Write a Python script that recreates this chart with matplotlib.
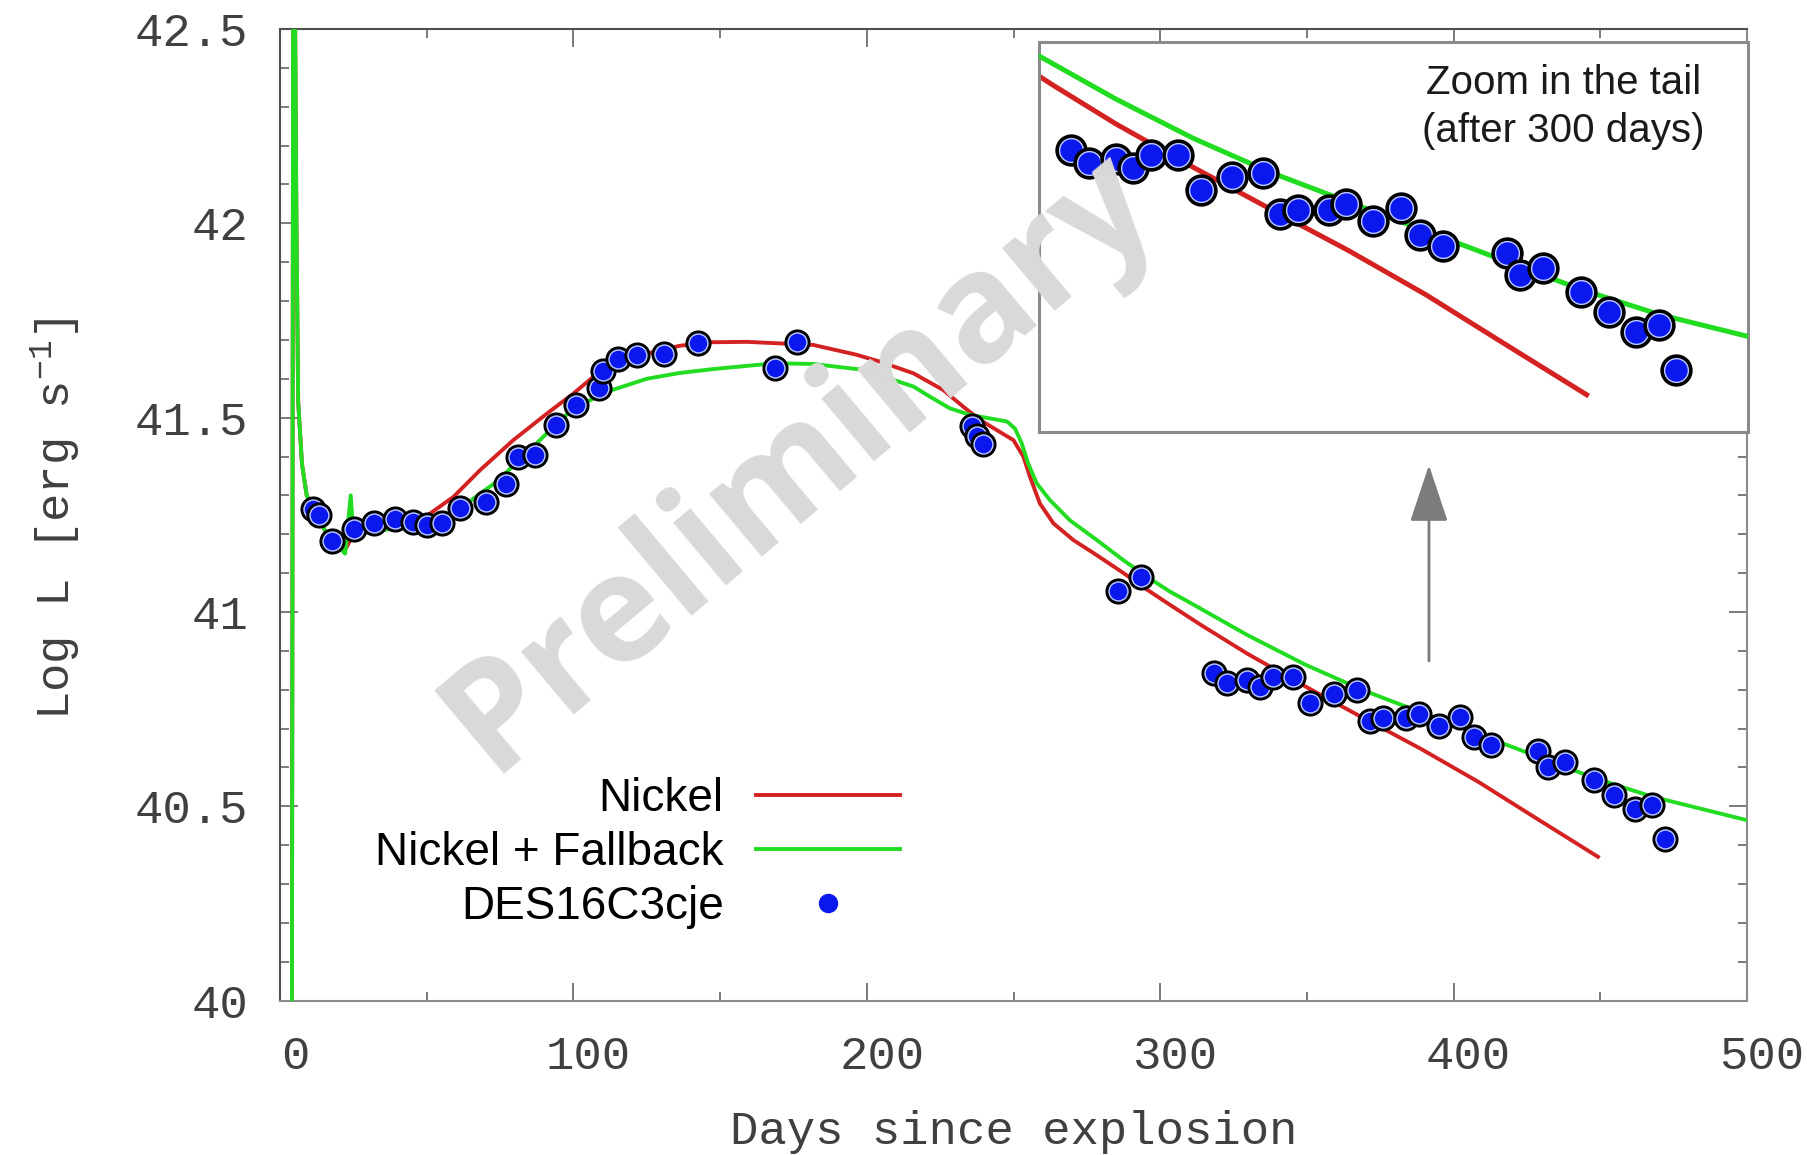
"""Bolometric light curve of DES16C3cje with nickel and fallback models."""

import matplotlib
matplotlib.use("Agg")
import matplotlib.pyplot as plt
from matplotlib.ticker import MultipleLocator
from matplotlib.transforms import ScaledTranslation

plt.rcParams["mathtext.fontset"] = "custom"
plt.rcParams["mathtext.rm"] = "Liberation Mono"
plt.rcParams["mathtext.default"] = "rm"

# --- model curves -----------------------------------------------------------
nickel_days = [4.0, 4.5, 5.0, 5.6, 6.2, 7.5, 9.1, 16.0, 22.2, 25.0, 34.1,
               45.4, 51.1, 59.1, 68.2, 79.5, 90.9, 100.0, 106.8, 113.6,
               125.0, 136.3, 147.0, 159.1, 181.8, 196.4, 204.5, 215.9,
               226.1, 232.9, 238.6, 244.3, 250.0, 253.4, 255.6, 259.0,
               263.6, 270.4, 278.4, 287.5, 295.4, 303.4, 313.8, 329.6,
               349.3, 369.0, 388.8, 408.4, 428.2, 449.2]
nickel_logl = [39.6, 42.7, 42.7, 42.0, 41.54, 41.38, 41.30, 41.20, 41.16,
               41.20, 41.21, 41.225, 41.253, 41.296, 41.365, 41.442,
               41.510, 41.562, 41.605, 41.635, 41.665, 41.685, 41.694,
               41.695, 41.687, 41.662, 41.644, 41.614, 41.571, 41.528,
               41.494, 41.468, 41.442, 41.399, 41.348, 41.279, 41.228,
               41.185, 41.146, 41.100, 41.058, 41.018, 40.967, 40.893,
               40.809, 40.728, 40.648, 40.563, 40.469, 40.370]

fallback_days = [4.0, 4.5, 5.0, 5.6, 6.2, 7.5, 9.1, 16.0, 22.2, 24.1, 25.0,
                 34.1, 45.4, 54.5, 63.6, 73.8, 86.3, 96.6, 105.7, 113.6,
                 125.0, 136.3, 147.7, 168.7, 181.8, 198.8, 215.9, 221.5,
                 228.3, 235.2, 242.0, 247.8, 250.5, 252.8, 255.0, 257.9,
                 262.4, 269.2, 278.4, 287.5, 295.4, 303.4, 309.9, 329.6,
                 349.3, 369.0, 388.8, 408.4, 428.2, 447.9, 467.6, 487.3,
                 500.1]
fallback_logl = [39.6, 42.7, 42.7, 42.0, 41.54, 41.38, 41.30, 41.20,
                 41.15, 41.30, 41.20, 41.21, 41.22, 41.236, 41.279, 41.335,
                 41.425, 41.502, 41.545, 41.572, 41.600, 41.615, 41.625,
                 41.640, 41.638, 41.623, 41.580, 41.554, 41.524, 41.507,
                 41.498, 41.490, 41.472, 41.434, 41.382, 41.331, 41.288,
                 41.236, 41.185, 41.133, 41.091, 41.052, 41.025, 40.941,
                 40.865, 40.799, 40.742, 40.686, 40.629, 40.573, 40.525,
                 40.488, 40.464]

# --- photometry ---------------------------------------------------------------
obs_days = [11.4, 13.4, 17.6, 25.2, 32.2, 39.2, 45.2, 50.2, 55.3, 61.3,
            70.1, 77.0, 81.2, 86.9, 94.1, 100.9, 108.8, 110.0, 115.3, 121.8,
            130.9, 142.3, 168.7, 176.3, 236.0, 237.6, 239.5, 285.6, 293.4,
            318.2, 322.9, 329.6, 333.9, 338.5, 345.3, 351.2, 359.2, 367.0,
            371.4, 375.9, 383.8, 388.2, 395.0, 402.1, 407.0, 412.8, 428.9,
            432.3, 438.0, 447.9, 454.8, 461.7, 467.5, 471.9]
obs_logl = [41.266, 41.249, 41.183, 41.214, 41.229, 41.238, 41.232, 41.223,
            41.229, 41.268, 41.283, 41.330, 41.399, 41.403, 41.480, 41.532,
            41.575, 41.620, 41.652, 41.662, 41.665, 41.692, 41.628, 41.695,
            41.478, 41.454, 41.433, 41.053, 41.091, 40.842, 40.818, 40.826,
            40.807, 40.832, 40.832, 40.766, 40.790, 40.799, 40.719, 40.726,
            40.726, 40.738, 40.706, 40.730, 40.678, 40.657, 40.643, 40.601,
            40.615, 40.568, 40.530, 40.492, 40.504, 40.417]

x_ticks = [0, 100, 200, 300, 400, 500]
y_ticks = [40, 40.5, 41, 41.5, 42, 42.5]
y_tick_labels = ["40", "40.5", "41", "41.5", "42", "42.5"]

RED = "#d42222"
GREEN = "#22dc22"
BLUE = "#0a18ee"
MONO = "Liberation Mono"
SANS = "Liberation Sans"


def draw_points(ax, days, logl, size, edge):
    """Blue dots with a black rim and a thin pale ring, one at a time."""
    for d, l in zip(days, logl):
        ax.plot(d, l, "o", ms=size, mfc=BLUE, mec="black", mew=edge, zorder=4)
        ax.plot(d, l, "o", ms=size - edge - 0.6, mfc="none", mec="#bccbff",
                mew=1.0, zorder=4)


fig = plt.figure(figsize=(18.07, 11.55), dpi=100)
ax = fig.add_axes([280 / 1807, 1 - 1000.6 / 1155, 1467 / 1807, 971.6 / 1155])

ax.plot(nickel_days, nickel_logl, color=RED, lw=2.8, label="Nickel", zorder=2)
ax.plot(fallback_days, fallback_logl, color=GREEN, lw=2.8,
        label="Nickel + Fallback", zorder=3)
draw_points(ax, obs_days, obs_logl, 16.5, 2.3)
ax.plot([], [], "o", ls="none", ms=13, color=BLUE, label="DES16C3cje")

ax.set_xlim(0, 500)
ax.set_ylim(40, 42.5)
ax.set_xticks(x_ticks)
ax.set_yticks(y_ticks)
ax.set_yticklabels(y_tick_labels)
ax.xaxis.set_minor_locator(MultipleLocator(50))
ax.yaxis.set_minor_locator(MultipleLocator(0.1))
ax.tick_params(which="both", direction="in", top=True, right=True,
               color="#555555", width=1.1, labelcolor="#404040",
               labelsize=34)
ax.tick_params(which="major", length=13)
ax.tick_params(which="minor", length=6.5)
ax.tick_params(axis="x", pad=24.5)
ax.tick_params(axis="y", pad=23)
for lab in ax.get_xticklabels() + ax.get_yticklabels():
    lab.set_fontfamily(MONO)
shift_x = ScaledTranslation(15 / 100, 0, fig.dpi_scale_trans)
for lab in ax.get_xticklabels():
    lab.set_transform(lab.get_transform() + shift_x)

for side in ("left", "top"):
    ax.spines[side].set_color("#505050")
for side in ("right", "bottom"):
    ax.spines[side].set_color("#8c8c8c")
for sp in ax.spines.values():
    sp.set_linewidth(1.5)

ax.set_xlabel("Days since explosion", fontfamily=MONO, fontsize=34,
              color="#404040", va="center")
ax.xaxis.set_label_coords(0.5, -(1132 - 1000.6) / 971.6)
ax.set_ylabel(r"Log L [erg s$^{-1}$]", fontfamily=MONO, fontsize=34,
              color="#404040", va="center")
ax.yaxis.set_label_coords((55 - 280) / 1467, 0.496)

ax.legend(loc="center right", bbox_to_anchor=(900 / 1807, 1 - 853 / 1155),
          bbox_transform=fig.transFigure, frameon=False, markerfirst=False,
          prop={"family": SANS, "size": 33}, handlelength=3.15,
          handletextpad=0.7, labelspacing=0.22, borderpad=0,
          borderaxespad=0, numpoints=1)

# arrow pointing from the tail up to the zoom panel
ax.annotate("", xy=(391.6, 41.378), xytext=(391.6, 40.874),
            arrowprops=dict(arrowstyle="-|>,head_length=36,head_width=12",
                            mutation_scale=1, color="#7c7c7c", lw=2,
                            shrinkA=0, shrinkB=0))

# zoom on the late-time tail
axin = fig.add_axes([1039 / 1807, 1 - 432 / 1155, 709 / 1807, 390 / 1155])
axin.plot(nickel_days, nickel_logl, color=RED, lw=3.6, zorder=2)
axin.plot(fallback_days, fallback_logl, color=GREEN, lw=3.6, zorder=3)
draw_points(axin, obs_days, obs_logl, 20.5, 2.8)
axin.set_xlim(310.1, 490.2)
axin.set_ylim(40.298, 41.051)
axin.set_xticks([])
axin.set_yticks([])
for sp in axin.spines.values():
    sp.set_color("#8a8a8a")
    sp.set_linewidth(2.2)
axin.text(0.740, 0.833, "Zoom in the tail\n(after 300 days)",
          transform=axin.transAxes, ha="center", va="center",
          fontfamily=SANS, fontsize=29, color="#1a1a1a", linespacing=1.32)

fig.text(800 / 1807, 1 - 462 / 1155, "Preliminary", rotation=40,
         rotation_mode="anchor", ha="center", va="center",
         fontfamily="Open Sans", fontweight="bold", fontsize=108,
         color="#d9d9d9", zorder=10)

fig.savefig("out.png", dpi=100, facecolor="white")
plt.close(fig)
